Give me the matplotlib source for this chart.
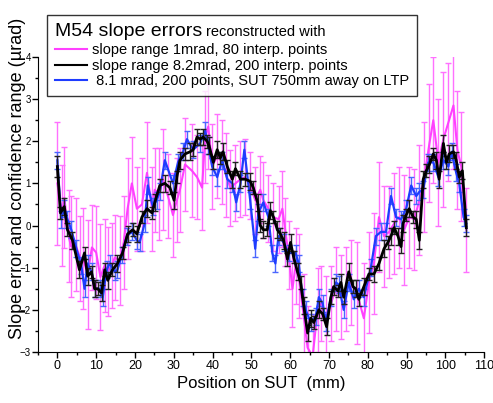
import numpy as np
import matplotlib
matplotlib.use('Agg')
import matplotlib.pyplot as plt
from matplotlib.lines import Line2D
from matplotlib.ticker import MultipleLocator

plt.rcParams['font.family'] = ['Liberation Sans', 'DejaVu Sans']

# slope range 1mrad, 80 interp. points (pink)
x_pink = [0.0, 1.2, 1.8, 2.9, 3.5, 4.7, 5.9, 6.7, 7.8, 8.9, 10.0, 11.1, 12.2, 13.0,
          14.0, 14.8, 16.1, 17.1, 18.1, 19.2, 20.5, 21.8, 23.1, 24.4, 25.1, 26.2,
          27.2, 28.5, 29.8, 30.8, 31.6, 32.9, 34.7, 36.0, 37.3, 38.1, 38.9, 39.9,
          41.2, 42.5, 43.5, 44.6, 45.9, 47.2, 48.4, 49.7, 51.0, 52.3, 53.1, 54.4,
          55.7, 57.0, 58.0, 58.8, 59.6, 60.6, 61.4, 62.2, 63.5, 64.5, 65.8, 67.1,
          67.9, 69.2, 70.5, 71.8, 73.1, 74.4, 75.6, 77.2, 79.0, 80.3, 81.6, 82.9,
          84.2, 85.5, 86.8, 88.1, 89.4, 90.7, 92.0, 93.3, 94.6, 95.9, 96.9, 98.2,
          99.5, 100.8, 102.1, 103.1, 104.1, 105.4]
y_pink = [1.0, 0.24, 0.66, -0.25, -0.49, -0.45, -0.78, -0.79, -1.16, -0.52, -0.64,
          -1.22, -0.94, -1.09, -0.95, -0.76, -0.83, -0.4, 0.4, 1.0, 0.4, 0.5, 1.25,
          0.4, 0.85, 0.75, 1.1, 0.7, 0.25, 0.6, 0.85, 1.45, 1.3, 1.15, 0.9, 2.1,
          2.35, 1.4, 1.65, 1.5, 1.2, 0.9, 1.0, 1.1, 1.15, 0.95, 0.6, 0.85, 0.6, 0.4,
          0.2, 0.15, 0.4, -0.15, -0.7, -1.5, -0.95, -1.2, -2.15, -2.9, -3.1, -2.0,
          -1.85, -2.2, -1.85, -1.5, -1.7, -1.5, -1.35, -1.6, -2.2, -1.35, -0.9, 0.2,
          -0.25, -0.15, 0.05, 0.2, -0.1, 0.2, 0.15, 0.6, 1.15, 1.95, 2.5, 1.5, 2.05,
          2.45, 2.85, 1.8, 1.4, -0.1]
e_pink = [1.45, 1.2, 1.2, 1.1, 1.2, 1.1, 1.0, 1.2, 1.3, 1.0, 1.1, 1.25, 1.1, 1.05,
          1.0, 1.0, 1.05, 1.1, 1.2, 1.1, 1.0, 1.1, 1.2, 1.0, 1.0, 1.1, 1.2, 1.0,
          1.0, 1.0, 1.0, 1.1, 1.1, 1.0, 1.0, 1.1, 1.0, 1.0, 1.0, 1.0, 1.0, 0.9,
          0.9, 0.9, 0.9, 0.8, 0.8, 0.8, 0.9, 0.8, 0.8, 0.8, 0.9, 0.8, 0.8, 0.9,
          0.9, 1.0, 1.0, 1.0, 1.0, 1.0, 0.9, 1.0, 0.9, 1.0, 1.0, 1.0, 1.0, 1.2,
          1.3, 1.2, 1.2, 1.3, 1.2, 1.1, 1.2, 1.2, 1.3, 1.2, 1.2, 1.3, 1.3, 1.4,
          1.5, 1.5, 1.6, 1.4, 1.5, 1.4, 1.3, 1.0]

# slope range 8.2mrad, 200 interp. points (black)
x_black = [0.0, 0.8, 1.8, 2.6, 3.9, 5.7, 7.0, 7.8, 8.8, 9.6, 10.4, 11.4, 12.2, 13.0,
           14.2, 15.5, 16.8, 18.1, 19.4, 20.5, 21.8, 23.1, 24.4, 25.1, 26.4, 27.7,
           29.0, 30.1, 30.8, 31.6, 32.9, 34.2, 35.0, 36.0, 36.8, 37.6, 38.6, 39.1,
           40.2, 41.2, 42.0, 42.7, 43.8, 45.1, 45.9, 47.2, 48.4, 49.7, 50.5, 51.6,
           52.3, 53.1, 54.1, 54.9, 55.7, 56.7, 57.5, 58.3, 59.3, 60.1, 60.9, 61.9,
           62.7, 63.5, 64.5, 65.3, 66.1, 67.4, 68.4, 69.4, 70.5, 71.2, 72.3, 73.1,
           73.8, 75.1, 76.2, 76.9, 77.7, 79.0, 80.3, 81.6, 82.9, 84.2, 85.2, 86.0,
           86.8, 87.8, 88.6, 89.1, 89.9, 90.7, 91.7, 92.5, 93.3, 94.3, 95.1, 95.9,
           96.9, 97.7, 98.4, 99.5, 100.3, 101.0, 102.1, 102.8, 103.6, 104.4, 105.4]
y_black = [1.4, 0.3, 0.45, -0.1, -0.35, -1.05, -0.65, -1.2, -1.1, -1.5, -1.5, -1.6,
           -1.05, -1.3, -1.05, -0.9, -0.65, -0.2, -0.1, -0.2, 0.2, 0.4, 0.3, 0.55,
           0.95, 1.0, 0.9, 0.6, 1.15, 1.55, 1.7, 1.75, 1.8, 2.1, 2.05, 2.1, 2.0, 1.9,
           1.5, 1.8, 1.6, 1.75, 1.4, 1.1, 1.35, 1.1, 1.1, 1.05, 0.9, 0.55, 0.0, -0.1,
           -0.1, 0.35, 0.2, -0.1, -0.2, -0.35, -0.8, -0.4, -0.75, -1.1, -1.35, -1.9,
           -2.55, -2.2, -2.3, -2.0, -2.1, -2.4, -1.7, -1.45, -1.55, -1.35, -1.7, -1.1,
           -1.45, -1.5, -1.75, -1.45, -1.15, -1.15, -0.9, -0.55, -0.4, -0.25, -0.05,
           -0.25, -0.5, 0.05, 0.25, 0.4, 0.2, 0.15, -0.35, 1.1, 1.3, 1.45, 1.7, 1.55,
           1.1, 1.95, 1.5, 1.7, 1.75, 1.55, 1.15, 1.3, -0.05]
e_black = [0.25, 0.15, 0.2, 0.15, 0.2, 0.2, 0.15, 0.2, 0.15, 0.2, 0.15, 0.2, 0.15,
           0.2, 0.15, 0.2, 0.15, 0.2, 0.15, 0.2, 0.15, 0.2, 0.15, 0.2, 0.15, 0.2,
           0.15, 0.2, 0.15, 0.2, 0.15, 0.2, 0.15, 0.2, 0.15, 0.2, 0.15, 0.2, 0.15,
           0.2, 0.15, 0.2, 0.15, 0.2, 0.15, 0.2, 0.15, 0.2, 0.15, 0.2, 0.15, 0.2,
           0.15, 0.2, 0.15, 0.2, 0.15, 0.2, 0.15, 0.2, 0.15, 0.2, 0.15, 0.2, 0.2,
           0.2, 0.15, 0.2, 0.15, 0.2, 0.15, 0.2, 0.15, 0.2, 0.15, 0.2, 0.15, 0.2,
           0.15, 0.2, 0.15, 0.2, 0.15, 0.2, 0.15, 0.2, 0.15, 0.2, 0.15, 0.2, 0.15,
           0.2, 0.15, 0.2, 0.2, 0.2, 0.15, 0.2, 0.15, 0.2, 0.2, 0.2, 0.15, 0.2, 0.15,
           0.2, 0.15, 0.2, 0.2]

# 8.1 mrad, 200 points, SUT 750mm away on LTP (blue)
x_blue = [0.0, 1.0, 1.8, 2.6, 3.6, 4.9, 6.2, 7.0, 7.8, 8.8, 9.6, 10.9, 11.7, 12.7,
          13.5, 14.8, 15.5, 16.6, 17.9, 19.2, 20.5, 21.2, 22.5, 23.3, 24.6, 25.6,
          26.4, 27.7, 29.8, 31.1, 32.4, 33.4, 35.0, 36.8, 38.1, 38.9, 39.9, 41.2,
          42.5, 43.8, 45.1, 46.1, 47.2, 48.2, 49.7, 51.0, 51.8, 53.1, 54.4, 55.4,
          56.2, 57.0, 58.3, 59.6, 61.4, 62.2, 63.2, 64.0, 65.3, 66.6, 67.4, 68.4,
          69.2, 70.5, 71.8, 72.5, 73.8, 75.1, 76.4, 77.7, 79.0, 80.8, 82.1, 83.4,
          84.7, 86.0, 87.3, 88.6, 89.9, 91.2, 92.5, 93.3, 94.3, 95.6, 96.9, 98.2,
          99.5, 100.8, 101.6, 102.8, 103.6, 104.7, 105.4]
y_blue = [1.55, 0.15, 0.4, 0.15, -0.1, -0.55, -0.95, -1.5, -0.9, -1.1, -1.5, -1.5,
          -1.7, -1.05, -0.9, -1.1, -1.05, -0.7, -0.25, -0.15, -0.35, -0.4, 0.05, 0.95,
          0.45, 0.6, 0.8, 1.55, 1.0, 1.5, 1.75, 2.05, 1.8, 1.95, 2.25, 1.9, 1.4, 1.15,
          1.55, 1.1, 1.0, 0.55, 1.0, 1.8, 0.6, -0.55, 0.3, 0.55, 0.2, -0.65, -0.9,
          -0.25, -0.4, -0.65, -0.65, -0.9, -1.7, -2.0, -2.3, -2.15, -1.7, -1.85, -2.3,
          -1.7, -1.35, -1.4, -2.0, -1.35, -1.75, -1.5, -1.7, -1.0, -0.25, -0.15, -0.15,
          0.7, 0.2, 0.15, 0.4, 0.95, 0.7, 0.8, 0.85, 1.5, 1.5, 1.15, 1.55, 1.4, 1.75,
          1.25, 1.0, 0.2, 0.05]
e_blue = [0.2] * len(x_blue)

pink = '#ff40ff'
blue = '#1e3cff'

fig = plt.figure(figsize=(4.93, 4.03), dpi=100)
ax = fig.add_axes([0.077, 0.1266, 0.905, 0.732])

ax.errorbar(x_pink, y_pink, yerr=e_pink, color=pink, ecolor='#ff70ff', lw=1.5,
            elinewidth=1.0, capsize=2.5, capthick=1.0, zorder=1)
ax.errorbar(x_blue, y_blue, yerr=e_blue, color=blue, ecolor='#4a66ff', lw=1.6,
            elinewidth=1.0, capsize=2.5, capthick=1.0, zorder=2)
ax.errorbar(x_black, y_black, yerr=e_black, color='black', ecolor='#222222', lw=2.0,
            elinewidth=1.0, capsize=2.5, capthick=1.0, zorder=3)

ax.set_xlim(-5, 110)
ax.set_ylim(-3, 4)
ax.spines['top'].set_visible(False)
ax.spines['right'].set_visible(False)
ax.xaxis.set_major_locator(MultipleLocator(10))
ax.xaxis.set_minor_locator(MultipleLocator(5))
ax.yaxis.set_major_locator(MultipleLocator(1))
ax.yaxis.set_minor_locator(MultipleLocator(0.5))
ax.tick_params(which='major', direction='out', length=4, width=1)
ax.tick_params(which='minor', direction='out', length=2.5, width=1)
ax.tick_params(axis='x', labelsize=9, pad=2)
ax.tick_params(axis='y', labelsize=7, pad=1)

ax.set_xlabel('Position on SUT  (mm)', fontsize=12, labelpad=3)
fig.text(18 / 493, 1 - 178 / 403, 'Slope error and confidence range (µrad)',
         rotation=90, ha='center', va='center', fontsize=13)

handles = [Line2D([], [], color=pink, lw=1.5),
           Line2D([], [], color='black', lw=1.5),
           Line2D([], [], color=blue, lw=1.5)]
labels = ['slope range 1mrad, 80 interp. points',
          'slope range 8.2mrad, 200 interp. points',
          ' 8.1 mrad, 200 points, SUT 750mm away on LTP']
leg = ax.legend(handles, labels, loc='upper left', bbox_to_anchor=(0.02, 1.142),
                borderaxespad=0, fontsize=10.5, title='M54 slope errors',
                title_fontsize=14, alignment='left', frameon=True, fancybox=False,
                edgecolor='black', handlelength=2.2, handletextpad=0.35,
                labelspacing=0.12, borderpad=0.55)
leg.get_frame().set_linewidth(1.0)
leg._legend_box.sep = 2

# smaller second part of the legend title, set right after it on the same baseline
fig.canvas.draw()
bb = leg.get_title().get_window_extent()
x_t = (bb.x1 + 4) / fig.bbox.width
y_t = (bb.y0 + 0.21 * 14 * 100 / 72) / fig.bbox.height
fig.text(x_t, y_t, 'reconstructed with', fontsize=10.5, va='baseline', ha='left')

plt.savefig('out.png', dpi=100)
